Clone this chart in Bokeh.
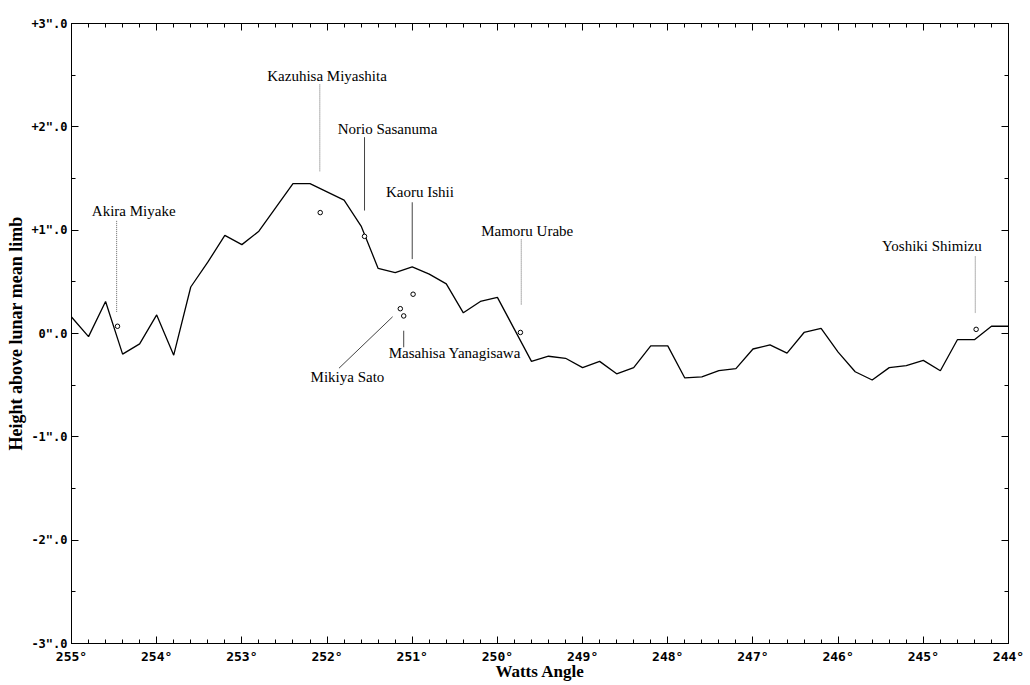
from bokeh.plotting import figure
from bokeh.models import (Range1d, LinearAxis, SingleIntervalTicker, ColumnDataSource,
                          CustomLabelingPolicy, CDSView, IndexFilter)
from bokeh.core.properties import value
from bokeh.embed import file_html
from bokeh.resources import INLINE

# ---- data ----
angles = [255.0, 254.8, 254.6, 254.4, 254.2, 254.0, 253.8, 253.6, 253.4, 253.2,
          253.0, 252.8, 252.6, 252.4, 252.2, 252.0, 251.8, 251.6, 251.4, 251.2,
          251.0, 250.8, 250.6, 250.4, 250.2, 250.0, 249.8, 249.6, 249.4, 249.2,
          249.0, 248.8, 248.6, 248.4, 248.2, 248.0, 247.8, 247.6, 247.4, 247.2,
          247.0, 246.8, 246.6, 246.4, 246.2, 246.0, 245.8, 245.6, 245.4, 245.2,
          245.0, 244.8, 244.6, 244.4, 244.2, 244.0]
heights = [0.16, -0.03, 0.31, -0.20, -0.10, 0.18, -0.21, 0.45, 0.69, 0.95,
           0.86, 0.99, 1.22, 1.45, 1.45, 1.37, 1.29, 1.04, 0.63, 0.59,
           0.645, 0.575, 0.48, 0.20, 0.31, 0.35, 0.04, -0.27, -0.22, -0.24,
           -0.33, -0.27, -0.39, -0.33, -0.12, -0.12, -0.43, -0.42, -0.36, -0.34,
           -0.15, -0.11, -0.19, 0.01, 0.05, -0.18, -0.37, -0.45, -0.33, -0.31,
           -0.26, -0.36, -0.06, -0.06, 0.07, 0.07]

observers = ["Akira Miyake", "Kazuhisa Miyashita", "Norio Sasanuma", "Kaoru Ishii",
             "Mikiya Sato", "Masahisa Yanagisawa", "Mamoru Urabe", "Yoshiki Shimizu"]
obs_angle = [254.46, 252.08, 251.56, 250.99, 251.14, 251.10, 249.73, 244.38]
obs_height = [0.07, 1.17, 0.94, 0.38, 0.24, 0.17, 0.01, 0.04]

# label anchor (angle, height) and leader line ends
label_angle = [254.27, 252.00, 251.29, 250.91, 251.76, 250.50, 249.65, 244.90]
label_height = [1.19, 2.49, 1.98, 1.37, -0.42, -0.19, 0.99, 0.85]
lead_a0 = [254.47, 252.085, 251.56, 251.00, 251.23, 251.10, 249.72, 244.39]
lead_h0 = [1.09, 2.41, 1.90, 1.27, 0.162, 0.027, 0.91, 0.745]
lead_a1 = [254.47, 252.085, 251.56, 251.00, 251.86, 251.10, 249.72, 244.39]
lead_h1 = [0.20, 1.57, 1.19, 0.72, -0.336, -0.133, 0.275, 0.198]
dotted_leaders = [0, 1, 6, 7]
solid_leaders = [2, 3, 4, 5]

x_tick_values = [255, 254, 253, 252, 251, 250, 249, 248, 247, 246, 245, 244]
x_tick_labels = ["255°", "254°", "253°", "252°", "251°", "250°", "249°", "248°",
                 "247°", "246°", "245°", "244°"]
y_tick_values = [3, 2, 1, 0, -1, -2, -3]
y_tick_labels = ['+3".0', '+2".0', '+1".0', '0".0', '-1".0', '-2".0', '-3".0']

# ---- figure ----
p = figure(width=1028, height=683, x_range=Range1d(255, 244), y_range=Range1d(-3, 3),
           output_backend="svg", toolbar_location=None,
           min_border_left=71, min_border_right=20, min_border_top=23, min_border_bottom=0)
p.title.visible = False
p.grid.visible = False
p.outline_line_color = "black"
p.outline_line_width = 1
p.background_fill_color = "white"
p.border_fill_color = "white"

tick_font = "DejaVu Sans Mono"


def style_axis(ax, show_labels=True):
    ax.axis_line_color = "black"
    ax.axis_line_width = 1
    ax.major_tick_in = 7
    ax.major_tick_out = 0
    ax.minor_tick_in = 4
    ax.minor_tick_out = 0
    ax.major_tick_line_color = "black"
    ax.minor_tick_line_color = "black"
    ax.major_label_text_font = tick_font
    ax.major_label_text_font_style = "bold"
    ax.major_label_text_color = "black"
    if not show_labels:
        ax.major_label_policy = CustomLabelingPolicy(code="return new Set()")
        ax.major_label_text_font_size = "1px"
        ax.major_label_standoff = 0


xa = p.xaxis[0]
xa.ticker = SingleIntervalTicker(interval=1, num_minor_ticks=5)
style_axis(xa)
xa.major_label_text_font_size = "13px"
xa.major_label_standoff = 5
xa.major_label_overrides = {v: l for v, l in zip(x_tick_values, x_tick_labels)}
xa.axis_label = "Watts Angle"
xa.axis_label_text_font = "Liberation Serif"
xa.axis_label_text_font_style = "bold"
xa.axis_label_text_font_size = "17px"
xa.axis_label_standoff = -5
xa.axis_label_text_color = "black"

ya = p.yaxis[0]
ya.ticker = SingleIntervalTicker(interval=1, num_minor_ticks=2)
style_axis(ya)
ya.major_label_text_font_size = "12px"
ya.major_label_standoff = 4
ya.major_label_overrides = {v: l for v, l in zip(y_tick_values, y_tick_labels)}
ya.axis_label = "Height above lunar mean limb"
ya.axis_label_text_font = "Liberation Serif"
ya.axis_label_text_font_style = "bold"
ya.axis_label_text_font_size = "18px"
ya.axis_label_standoff = 2
ya.axis_label_text_color = "black"

top = LinearAxis(ticker=SingleIntervalTicker(interval=1, num_minor_ticks=5))
style_axis(top, show_labels=False)
p.add_layout(top, "above")
right = LinearAxis(ticker=SingleIntervalTicker(interval=1, num_minor_ticks=2))
style_axis(right, show_labels=False)
p.add_layout(right, "right")

# ---- profile ----
prof = ColumnDataSource(dict(a=angles, h=heights))
p.line("a", "h", source=prof, line_color="black", line_width=1.3)

# leader lines
lead = ColumnDataSource(dict(a0=lead_a0, h0=lead_h0, a1=lead_a1, h1=lead_h1))
p.segment("a0", "h0", "a1", "h1", source=lead, view=CDSView(filter=IndexFilter(dotted_leaders)),
          line_color="#666666", line_width=1, line_dash="1 1")
p.segment("a0", "h0", "a1", "h1", source=lead, view=CDSView(filter=IndexFilter(solid_leaders)),
          line_color="#444444", line_width=1)

# observation points
obs = ColumnDataSource(dict(a=obs_angle, h=obs_height, name=observers,
                            la=label_angle, lh=label_height))
p.scatter("a", "h", source=obs, marker="circle", size=4.5, fill_color="white",
          line_color="black", line_width=1)
p.text("la", "lh", text="name", source=obs, text_align="center", text_baseline="middle",
       text_font=value("Liberation Serif"), text_font_size="15px", text_color="black")

open("out.html", "w").write(file_html(p, INLINE))
